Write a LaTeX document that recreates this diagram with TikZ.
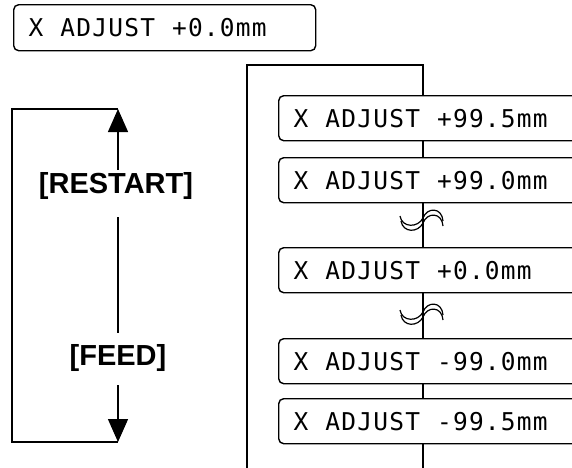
\documentclass[tikz,border=0pt]{standalone}
\usepackage{fontspec}
\setmainfont{Liberation Sans}
\newfontfamily\lcdfont[LetterSpace=5]{DejaVu Sans Mono}
\usetikzlibrary{arrows.meta,positioning,calc}
\tikzset{
  brk/.pic={
    \draw[line width=1.2pt] (-23,-3) .. controls (-21,9) and (-5,9) .. (0,-1) .. controls (4,-12) and (19,-12) .. (20,2);
    \draw[line width=1.2pt] (-22,2) .. controls (-20,14) and (-5,14) .. (0,4) .. controls (4,-7) and (19,-7) .. (20,7);
  }
}

\begin{document}
\begin{tikzpicture}[x=1pt,y=-1pt,line width=1.4pt,
    lcd/.style={draw,rounded corners=5pt,fill=white,anchor=north west,inner xsep=15pt,
      text width=#1,align=left,minimum height=45pt,
      font=\lcdfont\fontsize{24.5}{26}\selectfont,
      execute at begin node={\spaceskip=17pt\relax}},
    key/.style={font=\fontsize{29}{31}\selectfont\bfseries,inner sep=0pt},
    tip/.style={-{Triangle[width=20pt,length=23pt]}}]
    \useasboundingbox (0,0) rectangle (572,467);
    \clip (0,0) rectangle (572,467);
    \coordinate (ftl) at (247,65);
    \coordinate (ftr) at (423,65);
    \coordinate (fbl) at (247,472);
    \coordinate (fbr) at (423,472);
    \draw (fbl) -- (ftl) -- (ftr) -- (fbr);
    \pic at (423,219) {brk};
    \pic at (423,313) {brk};
    \node[lcd=272pt,minimum height=46pt] (cur) at (13,4) {X ADJUST +0.0mm};
    \node[lcd=300pt] (p995) at (278,95) {X ADJUST +99.5mm};
    \node[lcd=300pt] (p990) at (278,157) {X ADJUST +99.0mm};
    \node[lcd=300pt] (z00) at (278,247) {X ADJUST +0.0mm};
    \node[lcd=300pt] (m990) at (278,338) {X ADJUST -99.0mm};
    \node[lcd=300pt] (m995) at (278,398) {X ADJUST -99.5mm};
    \coordinate (ltr) at (118,109);
    \coordinate (ltl) at (12,109);
    \coordinate (lbl) at (12,442);
    \coordinate (lbr) at (118,442);
    \draw (ltr) -- (ltl) -- (lbl) -- (lbr);
    \node[key] (restart) at (116,186) {[RESTART]};
    \node[key] (feed) at (118,358) {[FEED]};
    \draw[tip] ($(restart.center)+(2,-16)$) -- (ltr);
    \draw ($(restart.center)+(2,31)$) -- ($(feed.center)+(0,-25)$);
    \draw[tip] ($(feed.center)+(0,27)$) -- (lbr);
\end{tikzpicture}
\end{document}
